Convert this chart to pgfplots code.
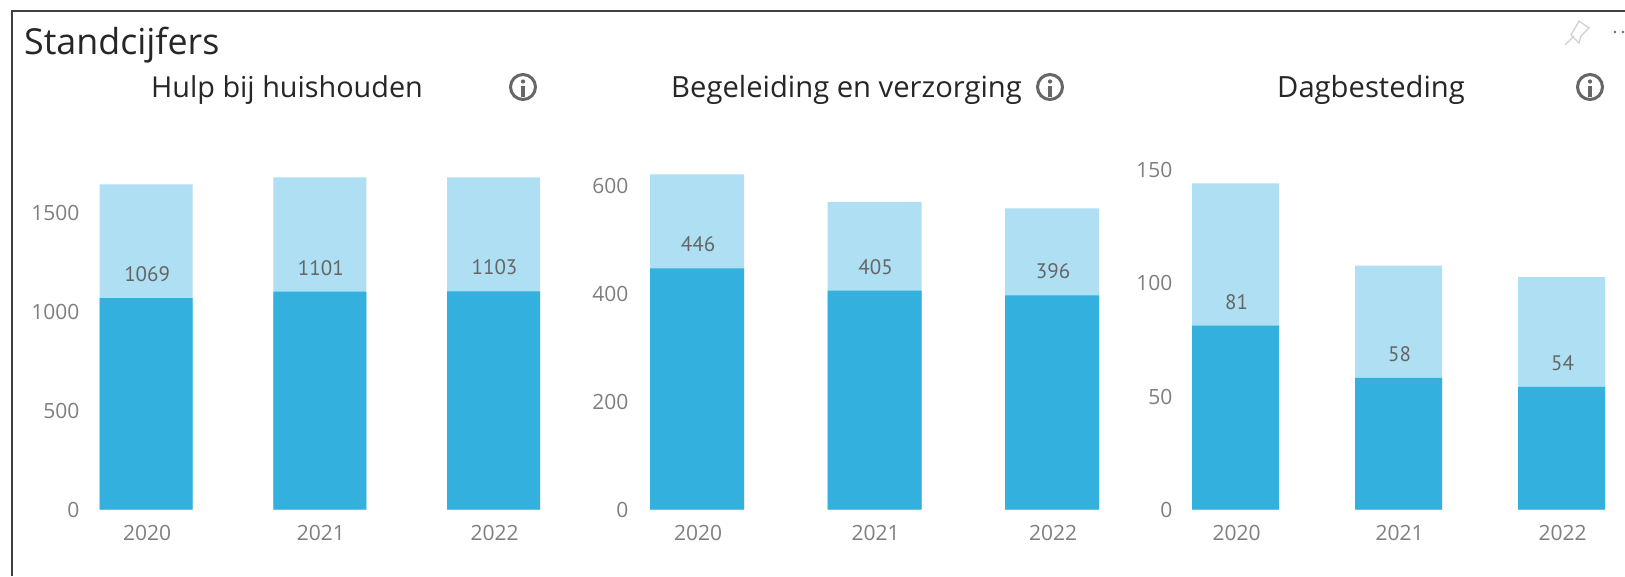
\documentclass[border=0pt]{standalone}
\usepackage{pgfplots}
\usepackage{fontspec}
\pgfplotsset{compat=1.18}
\setmainfont{Open Sans}
\newfontfamily\datafont{PT Sans}
\definecolor{lightbar}{HTML}{AEDFF3}
\definecolor{darkbar}{HTML}{33B0DE}
\definecolor{tickgrey}{HTML}{7F7F7F}
\definecolor{labelgrey}{HTML}{666666}
\definecolor{iconhue}{HTML}{666666}
\pgfplotsset{
  panel/.style={
    scale only axis,
    ymin=0,
    xtick={0,1,2},
    xticklabels={2020,2021,2022},
    axis line style={draw=none},
    tick style={draw=none},
    major tick length=0pt,
    clip=false,
    anchor=south west,
    tick label style={font=\fontsize{21}{25}\selectfont, text=tickgrey},
    /pgf/number format/1000 sep={},
    /pgf/number format/assume math mode=true,
    xticklabel style={xshift=1pt, yshift=-12pt},
    yticklabel style={xshift=-1pt, yshift=-0.5pt},
  },
  light/.style={ybar, bar shift=0pt, fill=lightbar, draw=none},
  dark/.style={ybar, bar shift=0pt, fill=darkbar, draw=none,
    nodes near coords,
    nodes near coords style={
      font=\datafont\fontsize{21}{25}\selectfont, text=labelgrey,
      anchor=south, inner sep=0pt, yshift=16pt, xshift=1pt,
      /pgf/number format/1000 sep={},
      /pgf/number format/assume math mode=true}},
}
\newcommand{\infoicon}[1]{%
  \draw[iconhue, line width=3pt] (#1,489) circle (12.5pt);
  \fill[iconhue] (#1-1.8pt,478.5) rectangle (#1+1.8pt,489.5);
  \fill[iconhue] (#1,494.5) circle (2.1pt);
}
\begin{document}
\begin{tikzpicture}[x=1pt,y=1pt]
\useasboundingbox (0,0) rectangle (1625,576);
\fill[white] (0,0) rectangle (1625,576);

\begin{axis}[panel, at={(84pt,66.5pt)}, width=479pt, height=369.5pt,
  xmin=-0.358, xmax=2.4, ymax=1868, ytick={0,500,1000,1500}, bar width=93pt]
  \addplot[light] coordinates {(0,1644) (1,1679) (2,1679)};
  \addplot[dark] coordinates {(0,1069) (1,1101) (2,1103)};
\end{axis}

\begin{axis}[panel, at={(633pt,66.5pt)}, width=503pt, height=369.5pt,
  xmin=-0.361, xmax=2.473, ymax=683.5, ytick={0,200,400,600}, bar width=94pt]
  \addplot[light] coordinates {(0,620) (1,569) (2,557)};
  \addplot[dark] coordinates {(0,446) (1,405) (2,396)};
\end{axis}

\begin{axis}[panel, at={(1177pt,66.5pt)}, width=440pt, height=369.5pt,
  xmin=-0.36, xmax=2.34, ymax=162.8, ytick={0,50,100,150}, bar width=87pt]
  \addplot[light] coordinates {(0,143.7) (1,107.4) (2,102.4)};
  \addplot[dark] coordinates {(0,81) (1,58) (2,54)};
\end{axis}

% frame
\draw[color=black!75, line width=2pt] (12,0) -- (12,564.5) -- (1625,564.5);

% titles
\node[anchor=base west, inner sep=0pt, font=\fontsize{35.8}{42}\selectfont, text=black!85] at (24,521) {Standcijfers};
\node[anchor=base west, inner sep=0pt, font=\fontsize{28.8}{34}\selectfont, text=black!85] at (151,478) {Hulp bij huishouden};
\node[anchor=base west, inner sep=0pt, font=\fontsize{29.2}{34}\selectfont, text=black!85] at (671,478) {Begeleiding en verzorging};
\node[anchor=base west, inner sep=0pt, font=\fontsize{29.2}{34}\selectfont, text=black!85] at (1277,478) {Dagbesteding};

\infoicon{523}
\infoicon{1050}
\infoicon{1590}

% pin and dots
\begin{scope}[black!18, line width=1.3pt]
  \draw (1565,531) -- (1574,540);
  \draw (1571,541) -- (1579,533) -- (1581,540) -- (1589,548) -- (1579,555) -- (1574,546) -- cycle;
\end{scope}
\fill[black!60] (1615,544) circle (1.4pt) (1623,544) circle (1.4pt);
\end{tikzpicture}
\end{document}
